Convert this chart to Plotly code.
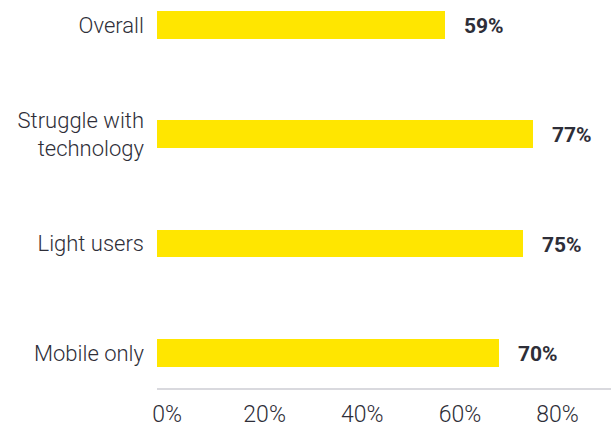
import plotly.graph_objects as go

# Share of respondents by user segment
categories = ["Overall", "Struggle with<br>technology", "Light users", "Mobile only"]
values = [59, 77, 75, 70]
value_labels = ["59%", "77%", "75%", "70%"]
tick_values = [0, 20, 40, 60, 80]
tick_labels = ["0%", "20%", "40%", "60%", "80%"]

TEXT = "#2e2e38"
YELLOW = "#ffe600"

fig = go.Figure()
fig.add_trace(go.Bar(
    x=values,
    y=categories,
    orientation="h",
    marker=dict(color=YELLOW, line=dict(width=0)),
    width=0.254,
    hoverinfo="skip",
))

for cat, val, lab in zip(categories, values, value_labels):
    fig.add_annotation(
        x=val, y=cat, text=f"<b>{lab}</b>",
        xanchor="left", yanchor="middle", xshift=17, yshift=-1,
        showarrow=False,
        font=dict(family="Roboto", size=21, color=TEXT),
    )

fig.update_layout(
    width=611, height=428,
    margin=dict(l=157, r=0, t=0, b=40),
    paper_bgcolor="white", plot_bgcolor="white",
    showlegend=False,
    bargap=0,
)
fig.update_xaxes(
    range=[0, 93],
    tickvals=tick_values, ticktext=tick_labels,
    showgrid=False, zeroline=False,
    showline=True, linecolor="#d9d9de", linewidth=2,
    ticks="", ticklabelshift=10, ticklabelstandoff=4,
    tickfont=dict(family="Roboto", size=23, color=TEXT, weight=300),
    automargin=False,
    fixedrange=True,
)
fig.update_yaxes(
    range=[3.322, -0.229],
    categoryorder="array", categoryarray=categories,
    showgrid=False, zeroline=False, showline=False,
    ticks="", ticklabelstandoff=12,
    tickfont=dict(family="Roboto", size=22, color=TEXT, weight=300),
    automargin=False,
    fixedrange=True,
)

fig.write_html("out.html")
